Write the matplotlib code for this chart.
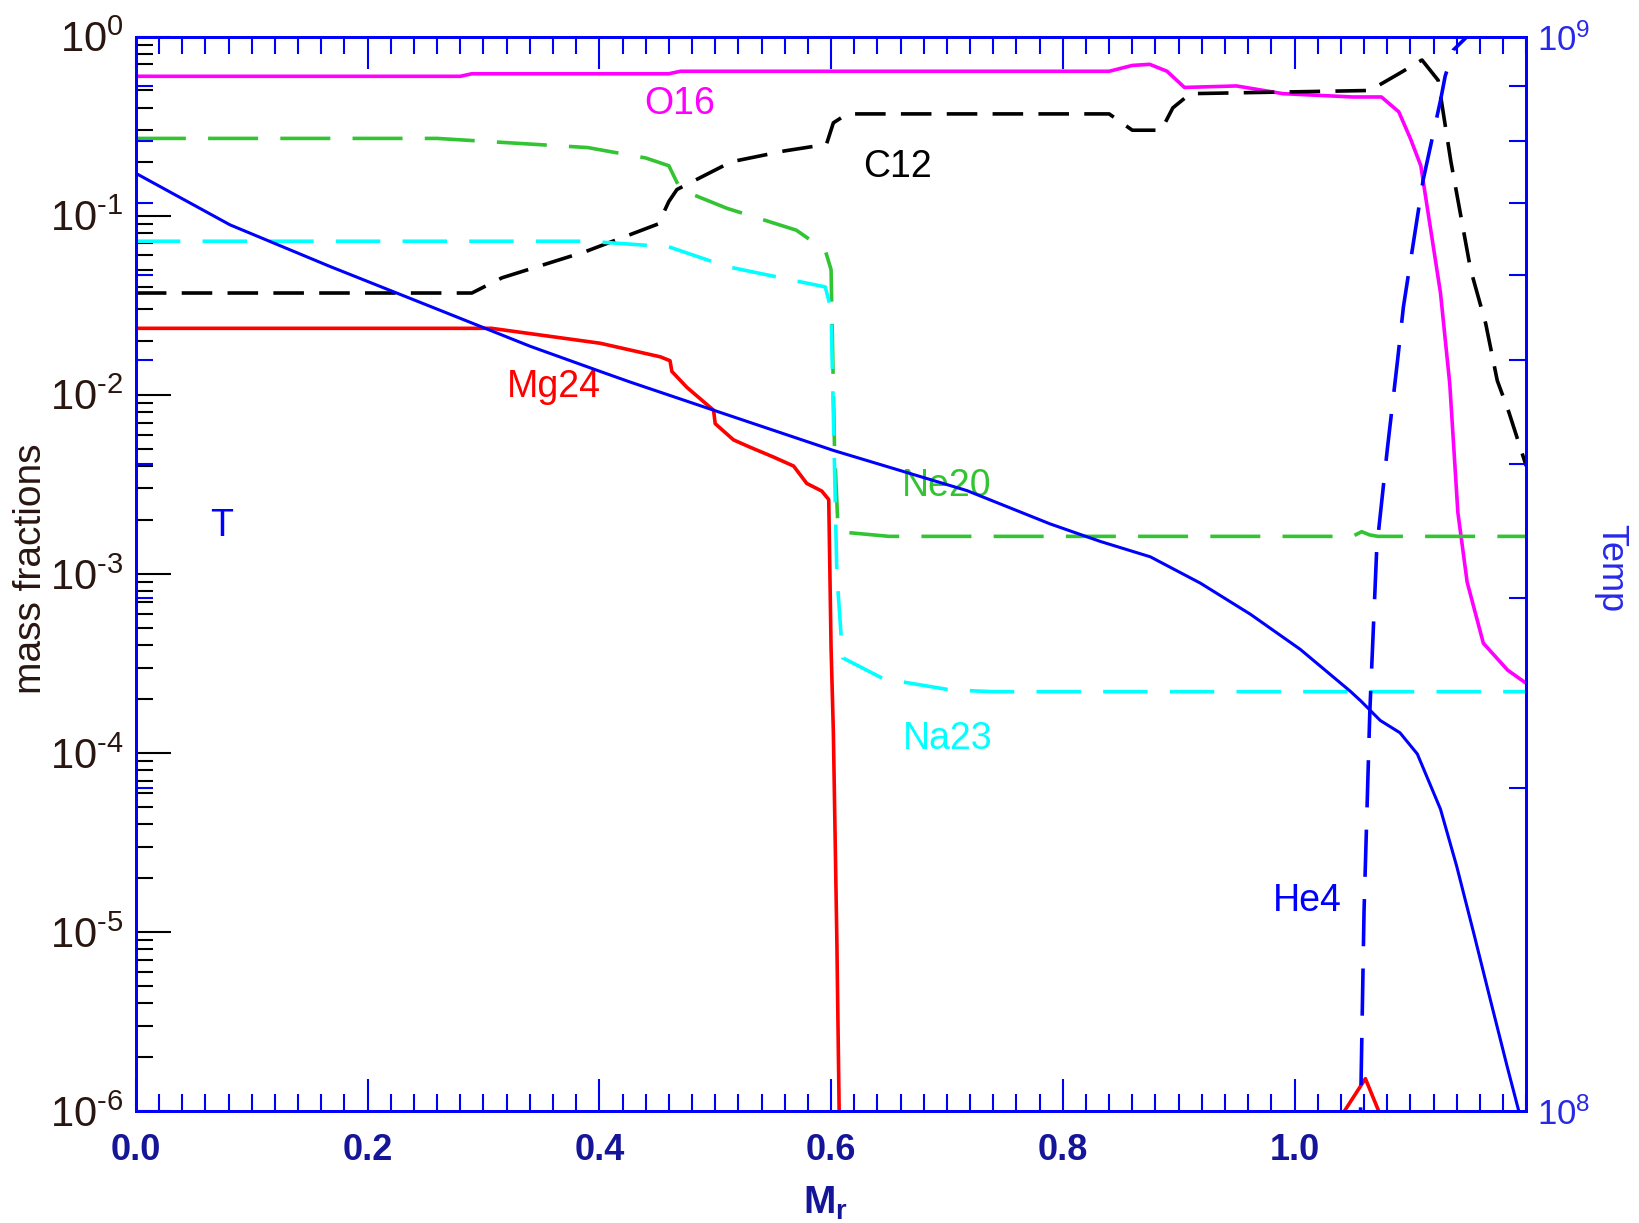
import math

import matplotlib
matplotlib.use("Agg")
import matplotlib.pyplot as plt
from matplotlib.ticker import FixedLocator, FuncFormatter, LogLocator, NullFormatter

plt.rcParams["font.family"] = ["Liberation Sans", "DejaVu Sans"]
plt.rcParams["mathtext.fontset"] = "custom"
plt.rcParams["mathtext.rm"] = "Liberation Sans"
plt.rcParams["mathtext.bf"] = "Liberation Sans:bold"
plt.rcParams["mathtext.it"] = "Liberation Sans:italic"
plt.rcParams["lines.scale_dashes"] = False

# mass fractions vs enclosed mass M_r
o16_x = [0, 0.28, 0.29, 0.46, 0.47, 0.84, 0.86, 0.875, 0.89, 0.905, 0.95, 0.99, 1.05,
         1.075, 1.09, 1.10, 1.109, 1.118, 1.126, 1.134, 1.141, 1.149, 1.163, 1.184, 1.2]
o16_y = [0.60, 0.60, 0.62, 0.62, 0.64, 0.64, 0.69, 0.70, 0.64, 0.52, 0.53, 0.48, 0.46,
         0.46, 0.38, 0.27, 0.19, 0.08, 0.037, 0.0115, 2.2e-3, 9e-4, 4.1e-4, 2.9e-4, 2.45e-4]

c12_x = [0, 0.29, 0.316, 0.388, 0.451, 0.46, 0.467, 0.514, 0.56, 0.596, 0.602, 0.614,
         0.84, 0.86, 0.885, 0.895, 0.91, 1.065, 1.09, 1.11, 1.124, 1.135, 1.152, 1.165,
         1.175, 1.185, 1.2]
c12_y = [0.037, 0.037, 0.045, 0.063, 0.09, 0.12, 0.14, 0.20, 0.23, 0.25, 0.33, 0.37,
         0.37, 0.30, 0.30, 0.40, 0.48, 0.50, 0.62, 0.74, 0.57, 0.2, 0.05, 0.025,
         0.012, 0.008, 0.004]

ne20_x = [0, 0.26, 0.39, 0.44, 0.46, 0.47, 0.51, 0.57, 0.595, 0.600, 0.603, 0.606,
          0.615, 0.65, 1.05, 1.058, 1.065, 1.072, 1.2]
ne20_y = [0.27, 0.27, 0.24, 0.21, 0.19, 0.14, 0.11, 0.083, 0.064, 0.05, 5e-3, 1.8e-3,
          1.7e-3, 1.62e-3, 1.62e-3, 1.72e-3, 1.65e-3, 1.62e-3, 1.62e-3]

na23_x = [0, 0.39, 0.46, 0.51, 0.595, 0.60, 0.605, 0.61, 0.645, 0.703, 0.74, 1.2]
na23_y = [0.072, 0.072, 0.067, 0.052, 0.04, 0.03, 1e-3, 3.4e-4, 2.6e-4, 2.25e-4,
          2.2e-4, 2.2e-4]

mg24_x = [0, 0.307, 0.4007, 0.4525, 0.461, 0.4626, 0.4756, 0.4986, 0.500, 0.5158,
          0.530, 0.550, 0.5677, 0.579, 0.592, 0.598, 0.600, 0.602, 0.605, 0.607, 0.61,
          1.03, 1.043, 1.0612, 1.0727, 1.09, 1.2]
mg24_y = [0.0235, 0.0235, 0.0194, 0.0163, 0.0155, 0.0135, 0.011, 0.0082, 0.0069, 0.0056,
          0.0051, 0.0045, 0.0040, 0.0032, 0.0029, 0.0026, 3.9e-4, 1.3e-4, 9e-6, 1e-6, 1e-9,
          1e-9, 1e-6, 1.52e-6, 1e-6, 1e-9, 1e-9]

he4_x = [0, 1.055, 1.057, 1.06, 1.065, 1.071, 1.080, 1.089, 1.094, 1.111, 1.126, 1.13,
         1.137, 1.149, 1.2]
he4_y = [1e-9, 1e-9, 1e-6, 1.3e-5, 1.7e-4, 1.4e-3, 4.9e-3, 0.0157, 0.031, 0.158, 0.44,
         0.6, 0.84, 1.0, 1.0]

# temperature (right axis)
t_x = [0, 0.0813, 0.1676, 0.254, 0.3403, 0.4007, 0.4266, 0.5015, 0.602, 0.7173, 0.789,
       0.8324, 0.8756, 0.9188, 0.962, 1.005, 1.048, 1.057, 1.074, 1.091, 1.106, 1.126,
       1.140, 1.155, 1.169, 1.1836, 1.1936]
t_y = [7.46e8, 6.68e8, 6.11e8, 5.61e8, 5.15e8, 4.88e8, 4.77e8, 4.48e8, 4.12e8, 3.78e8,
       3.52e8, 3.39e8, 3.28e8, 3.10e8, 2.90e8, 2.69e8, 2.46e8, 2.41e8, 2.31e8, 2.25e8,
       2.15e8, 1.91e8, 1.69e8, 1.46e8, 1.27e8, 1.10e8, 1.0e8]

x_ticks = [0.0, 0.2, 0.4, 0.6, 0.8, 1.0]
x_ticklabels = ["0.0", "0.2", "0.4", "0.6", "0.8", "1.0"]

BLUE = "#0000ff"
NAVY = "#15159a"
BROWN = "#2a1610"
GREEN = "#33c433"


def pow10_label(v, pos):
    k = round(math.log10(v))
    if k < 0:
        return r"$\mathregular{10^{\text{-}%d}}$" % (-k)
    return r"$\mathregular{10^{%d}}$" % k


fig = plt.figure(figsize=(16.39, 12.23), dpi=100)
ax = fig.add_axes([0.0829, 0.0914, 0.8483, 0.8787])

lw = 2.6
ax.plot(o16_x, o16_y, color="#ff00ff", lw=lw)
ax.plot(c12_x, c12_y, color="black", lw=lw, ls=(0, (22, 11)))
ax.plot(ne20_x, ne20_y, color=GREEN, lw=lw, ls=(0, (36, 16)))
ax.plot(na23_x, na23_y, color="#00ffff", lw=lw, ls=(0, (32, 16)))
ax.plot(mg24_x, mg24_y, color="#ff0000", lw=lw)
ax.plot(he4_x, he4_y, color=BLUE, lw=lw, ls=(0, (34, 16)))

ax.set_yscale("log")
ax.set_xlim(0, 1.2)
ax.set_ylim(1e-6, 1)

ax.xaxis.set_major_locator(FixedLocator(x_ticks))
ax.set_xticklabels(x_ticklabels)
ax.xaxis.set_minor_locator(FixedLocator([i * 0.02 for i in range(61)]))
ax.tick_params(axis="x", which="both", direction="in", top=True, colors=BLUE,
               labelcolor=NAVY, labelsize=26, pad=16, width=1.5)
ax.tick_params(axis="x", which="major", length=23)
ax.tick_params(axis="x", which="minor", length=12)
for lbl in ax.get_xticklabels():
    lbl.set_fontweight("bold")

ax.yaxis.set_major_locator(FixedLocator([10.0 ** k for k in range(-6, 1)]))
ax.yaxis.set_major_formatter(FuncFormatter(pow10_label))
ax.yaxis.set_minor_locator(LogLocator(base=10, subs=range(2, 10), numticks=20))
ax.yaxis.set_minor_formatter(NullFormatter())
ax.tick_params(axis="y", which="both", direction="in", left=True, right=True,
               colors="black", labelcolor=BROWN, labelsize=30, pad=9, width=1.5)
ax.tick_params(axis="y", which="major", length=25)
ax.tick_params(axis="y", which="minor", length=12)

for sp in ax.spines.values():
    sp.set_color(BLUE)
    sp.set_linewidth(2)

ax.set_ylabel("mass fractions", fontsize=28, color=BROWN)
ax.yaxis.set_label_coords(-0.0625, 0.505)
ax.set_xlabel(r"$\mathbf{M_r}$", fontsize=28, color=NAVY)
ax.xaxis.set_label_coords(0.496, -0.068)

# species labels
ax.text(0.469, 0.42, "O16", color="#ff00ff", fontsize=27, ha="center", va="center")
ax.text(0.657, 0.187, "C12", color="black", fontsize=27, ha="center", va="center")
ax.text(0.361, 0.011, "Mg24", color="#ff0000", fontsize=27, ha="center", va="center")
ax.text(0.70, 3.1e-3, "Ne20", color=GREEN, fontsize=27, ha="center", va="center")
ax.text(0.701, 1.2e-4, "Na23", color="#00ffff", fontsize=27, ha="center", va="center")
ax.text(1.011, 1.5e-5, "He4", color=BLUE, fontsize=27, ha="center", va="center")
ax.text(0.074, 1.85e-3, "T", color=BLUE, fontsize=27, ha="center", va="center")

ax2 = ax.twinx()
ax2.plot(t_x, t_y, color=BLUE, lw=2.2)
ax2.set_yscale("log")
ax2.set_ylim(1e8, 1e9)
ax2.set_xlim(0, 1.2)
ax2.yaxis.set_major_locator(FixedLocator([1e8, 1e9]))
ax2.yaxis.set_major_formatter(FuncFormatter(pow10_label))
ax2.yaxis.set_minor_locator(FixedLocator([k * 1e8 for k in range(2, 10)]))
ax2.yaxis.set_minor_formatter(NullFormatter())
ax2.tick_params(axis="y", which="both", direction="in", left=True, right=True,
                labelleft=False, labelright=True, colors=BLUE, labelcolor="#2828e8",
                labelsize=25, pad=8, width=1.5)
ax2.tick_params(axis="y", which="major", length=0)
ax2.tick_params(axis="y", which="minor", length=12)
for sp in ax2.spines.values():
    sp.set_color(BLUE)
    sp.set_linewidth(2)
ax2.set_ylabel("Temp", fontsize=26, color="#2828e8", rotation=270, va="center")
ax2.yaxis.set_label_coords(1.061, 0.505)

fig.savefig("out.png", dpi=100)
